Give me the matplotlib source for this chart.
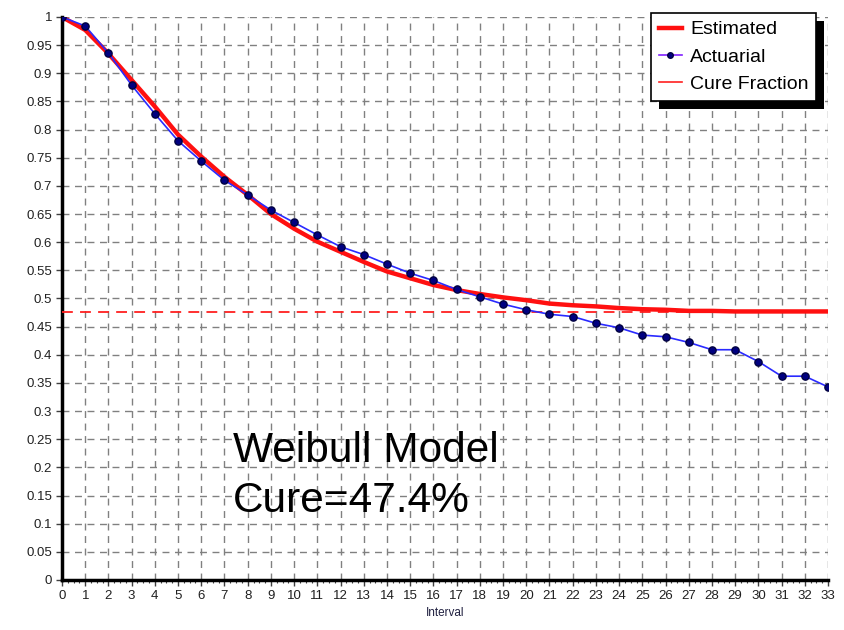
import matplotlib
matplotlib.use("Agg")
import matplotlib.pyplot as plt
from matplotlib.lines import Line2D
from matplotlib.patches import Rectangle
from matplotlib.ticker import MultipleLocator

plt.rcParams['font.family'] = ['Liberation Sans', 'DejaVu Sans']

intervals = list(range(0, 34))
actuarial = [1.000, 0.984, 0.936, 0.879, 0.828, 0.780, 0.744, 0.710, 0.684, 0.657,
             0.635, 0.613, 0.592, 0.578, 0.561, 0.545, 0.532, 0.516, 0.503, 0.490,
             0.480, 0.472, 0.468, 0.456, 0.448, 0.435, 0.432, 0.422, 0.409, 0.409,
             0.388, 0.362, 0.362, 0.343]
estimated = [1.000, 0.977, 0.935, 0.888, 0.841, 0.791, 0.752, 0.716, 0.684, 0.650,
             0.624, 0.601, 0.583, 0.565, 0.548, 0.536, 0.524, 0.515, 0.508, 0.502,
             0.497, 0.491, 0.488, 0.486, 0.483, 0.481, 0.480, 0.478, 0.478, 0.477,
             0.477, 0.477, 0.477, 0.477]
cure_fraction = 0.476
annotation_lines = ["Weibull Model", "Cure=47.4%"]
legend_labels = ["Estimated", "Actuarial", "Cure Fraction"]
yticks = [i * 0.05 for i in range(21)]

W, H = 845, 630
fig = plt.figure(figsize=(W / 100, H / 100), dpi=100)
ax = fig.add_axes([62 / W, 1 - 580 / H, (828 - 62) / W, (580 - 17) / H])

ax.set_xlim(0, 33)
ax.set_ylim(0, 1)
ax.set_xticks(intervals)
ax.set_xticklabels([str(i) for i in intervals])
ax.xaxis.set_minor_locator(MultipleLocator(0.25))
ax.set_yticks(yticks)
ax.set_yticklabels([("%g" % round(v, 2)) for v in yticks])

ax.grid(True, which='major', color='#808080', linestyle=(0, (5, 4)), linewidth=1.0)
ax.set_axisbelow(True)
for s in ['top', 'right']:
    ax.spines[s].set_visible(False)
for s in ['left', 'bottom']:
    ax.spines[s].set_linewidth(2.5)
    ax.spines[s].set_color('black')
ax.tick_params(axis='both', which='major', labelsize=9.5, length=4, width=1,
               color='#404040', labelcolor='#202020', pad=3)
ax.tick_params(axis='x', which='minor', length=2.5, width=0.8, color='#404040')
ax.set_xlabel("Interval", fontsize=8.5, color='#202040', labelpad=4)

ax.axhline(cure_fraction, color='#ff2020', linestyle=(0, (6, 4)), linewidth=1.3, zorder=3)
ax.plot(intervals, estimated, color='#ff1010', linewidth=3.2, zorder=4,
        solid_capstyle='butt')
ax.plot(intervals, actuarial, color='#2a2aff', linewidth=1.2, marker='o',
        markersize=5.2, markerfacecolor='#000080', markeredgecolor='#000040', zorder=5)

fig.text(233 / W, 1 - 462 / H, annotation_lines[0], fontsize=30.5, color='black',
         va='baseline', ha='left')
fig.text(233 / W, 1 - 512 / H, annotation_lines[1], fontsize=30.5, color='black',
         va='baseline', ha='left')

handles = [
    Line2D([], [], color='#ff1010', linewidth=3.2),
    Line2D([], [], color='#8020ff', linewidth=1.2, marker='o', markersize=4,
           markerfacecolor='#000080', markeredgecolor='#000040'),
    Line2D([], [], color='#ff2020', linewidth=1.2),
]
leg = fig.legend(handles, legend_labels, loc='upper left',
                 bbox_to_anchor=(651 / W, 1 - 13 / H), bbox_transform=fig.transFigure,
                 fontsize=14, frameon=True, fancybox=False, framealpha=1,
                 edgecolor='black', handlelength=1.2, handletextpad=0.4,
                 borderpad=0.4, labelspacing=0.5, borderaxespad=0)
leg.get_frame().set_linewidth(1.2)
leg.set_zorder(20)
fig.canvas.draw()
bb = leg.get_window_extent()
shadow = Rectangle((bb.x0 + 8, bb.y0 - 8), bb.width, bb.height, transform=None,
                   facecolor='black', edgecolor='none', zorder=19)
fig.add_artist(shadow)

fig.savefig("out.png", dpi=100)
